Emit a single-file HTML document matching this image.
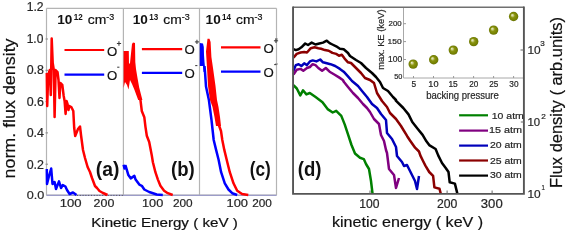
<!DOCTYPE html>
<html><head><meta charset="utf-8">
<style>
html,body{margin:0;padding:0;background:#fff;width:567px;height:234px;overflow:hidden}
svg{display:block;will-change:transform}
text{font-family:"Liberation Sans",sans-serif}
</style></head>
<body>
<svg width="567" height="234" viewBox="0 0 567 234">
<defs>
<radialGradient id="ball" cx="0.5" cy="0.5" r="0.5" fx="0.33" fy="0.33">
<stop offset="0" stop-color="#f0f0d8"/>
<stop offset="0.22" stop-color="#c8cc80"/>
<stop offset="0.45" stop-color="#8a9410"/>
<stop offset="0.85" stop-color="#748000"/>
<stop offset="1" stop-color="#66700a"/>
</radialGradient>
</defs>
<rect width="567" height="234" fill="#fff"/>
<!-- left frames -->
<g fill="none" stroke="#b4b4b4" stroke-width="1.2">
<line x1="46.5" y1="8.3" x2="276.5" y2="8.3"/>
<line x1="46.5" y1="8.3" x2="46.5" y2="195.2"/>
<line x1="123.4" y1="8.3" x2="123.4" y2="195.2"/>
<line x1="199.5" y1="8.3" x2="199.5" y2="195.2"/>
<line x1="276.5" y1="8.3" x2="276.5" y2="195.2"/>
<line x1="46.5" y1="195.2" x2="276.5" y2="195.2"/>
</g>
<line x1="46.5" y1="195.4" x2="276.5" y2="195.4" stroke="#9c9cc8" stroke-width="1.2"/>
<line x1="77" y1="195.4" x2="123" y2="195.4" stroke="#555" stroke-width="1" stroke-dasharray="1 1.8"/>
<g stroke="#888" stroke-width="1">
<line x1="45.5" y1="39" x2="48" y2="39"/>
<line x1="45.5" y1="70.3" x2="48" y2="70.3"/>
<line x1="45.5" y1="101.6" x2="48" y2="101.6"/>
<line x1="45.5" y1="132.9" x2="48" y2="132.9"/>
<line x1="45.5" y1="164.2" x2="48" y2="164.2"/>
<line x1="275" y1="39" x2="278" y2="39"/>
<line x1="275" y1="64" x2="278" y2="64"/>
</g>
<!-- legends a b c -->
<g stroke-width="2.2">
<line x1="64.5" y1="50" x2="104.2" y2="50" stroke="#ff0000"/>
<line x1="64.5" y1="74.6" x2="104.2" y2="74.6" stroke="#0000ff"/>
<line x1="141.9" y1="49.2" x2="182.2" y2="49.2" stroke="#ff0000"/>
<line x1="141.9" y1="72.9" x2="182.2" y2="72.9" stroke="#0000ff"/>
<line x1="221" y1="47.4" x2="260.5" y2="47.4" stroke="#ff0000"/>
<line x1="221" y1="71.7" x2="260.5" y2="71.7" stroke="#0000ff"/>
</g>
<!-- + and - superscripts -->
<g stroke="#3a3a3a" stroke-width="1.05">
<line x1="116.9" y1="43.5" x2="121.1" y2="43.5"/><line x1="118.95" y1="41.3" x2="118.95" y2="45.7"/>
<line x1="117.2" y1="67.2" x2="119.4" y2="67.2"/>
<line x1="194.9" y1="41.9" x2="199.1" y2="41.9"/><line x1="196.95" y1="39.7" x2="196.95" y2="44.1"/>
<line x1="195.2" y1="65.6" x2="197.4" y2="65.6"/>
<line x1="273.9" y1="40.8" x2="278.1" y2="40.8"/><line x1="275.95" y1="38.6" x2="275.95" y2="43"/>
<line x1="274.2" y1="64.6" x2="276.4" y2="64.6"/>
</g>
<!-- panel a curves -->
<g fill="none" stroke-width="2.5" stroke-linejoin="round">
<polyline stroke="#ff0000" points="46.8,73 47.2,106 48.2,75 49.8,70 50.8,95 51.7,38.5 52.7,63 53.8,70 54.6,117 55.6,70 57.5,72 58.5,80 59.5,98 60.3,83 62.3,85 63.7,96 64.6,101 65.6,114 66.5,101 67.5,104 68.5,110 69.4,106 71.3,107 73.3,111 74.2,128 75.2,136 78,129 80,126.5 81,135 83,150 85,158 87.6,167 90,172 92,178 95,186 97,188 99.5,191 103,193 107.5,195"/>
<polyline stroke="#0000ff" points="46.8,169 47,184 49,176 51.2,168.5 52.5,184 54.6,182 56,189 59,181.4 61,188 62.8,185 65.4,186.5 67,190 69.6,194 73,192.5 76.5,195"/>
</g>
<!-- panel b -->
<polygon fill="#ff0000" points="123.6,51 128.8,51 129,64 130,63 132,44 133,42.5 135,43 135.3,62 136,69 137.5,78 139.2,87.4 142.4,100 138.2,100 134.5,90 132,84 130,80 128.5,89.5 127,85 125,82 123.6,88"/>
<g fill="none" stroke-width="2.5" stroke-linejoin="round">
<polyline stroke="#ff0000" points="139.5,96 140.6,101.1 141.8,111 144.3,117.2 145.5,127.1 146.8,135.8 149.2,142 150.5,148.7 151.7,154.9 152.9,162.3 155.4,172.2 157.9,179.6 160.4,185.8 164.1,190.7 167.8,193.2 172.7,195"/>
<polyline stroke="#0000ff" points="123.6,164.8 124.5,168.5 125.7,166 128.2,174.7 130.7,178.4 134.4,175.9 135.6,179.6 139.3,184.6 141.8,185.8 144.3,189.5 149.2,192 156.7,194.5 162.8,195"/>
</g>
<!-- panel c -->
<polygon fill="#0000ff" points="199.8,43 203,43.5 203.8,47 204,55 204.5,62 205.5,72 203.5,72 203,66 199.8,66"/>
<g fill="none" stroke-width="2.5" stroke-linejoin="round">
<polyline stroke="#0000ff" points="204.5,66 205,72 206,86.5 208.9,100 211.5,120 213.7,140 216.1,149.9 218.6,159.8 221.1,172.2 224.8,183.3 228.5,189.5 232.2,193.2 237.2,195"/>
</g>
<polygon fill="#ff0000" points="207.5,38.8 209.5,38.8 210.6,42 211.4,57 213,68 215.5,86 217,100 218.5,107 220,117 221,126 216,126 214.5,117 212.5,107 210,100 208,86 207,68 206,51.4"/>
<g fill="none" stroke-width="2.5" stroke-linejoin="round">
<polyline stroke="#ff0000" points="218.5,124 221,131 222.3,140 224.3,149.9 227.3,162.3 229.8,172.2 233.5,183.3 237.2,190.7 242.1,194 248.3,195"/>
</g>
<!-- ===== panel d ===== -->
<g stroke="#a8a8a8" stroke-width="1" fill="none">
<line x1="403.5" y1="7" x2="403.5" y2="78"/>
<line x1="403.5" y1="78" x2="524" y2="78"/>
</g>
<g stroke="#999" stroke-width="1">
<line x1="403.5" y1="23.7" x2="406" y2="23.7"/>
<line x1="403.5" y1="41.6" x2="406" y2="41.6"/>
<line x1="403.5" y1="59.5" x2="406" y2="59.5"/>
<line x1="413.5" y1="76" x2="413.5" y2="78"/>
<line x1="433.5" y1="76" x2="433.5" y2="78"/>
<line x1="453.6" y1="76" x2="453.6" y2="78"/>
<line x1="473.6" y1="76" x2="473.6" y2="78"/>
<line x1="493.6" y1="76" x2="493.6" y2="78"/>
<line x1="513.6" y1="76" x2="513.6" y2="78"/>
</g>
<g>
<circle cx="413.2" cy="64.1" r="4.7" fill="url(#ball)"/>
<circle cx="433.7" cy="59.7" r="4.7" fill="url(#ball)"/>
<circle cx="453.3" cy="50.1" r="4.7" fill="url(#ball)"/>
<circle cx="473.7" cy="41.6" r="4.7" fill="url(#ball)"/>
<circle cx="493.6" cy="30.1" r="4.7" fill="url(#ball)"/>
<circle cx="513.6" cy="16.5" r="4.7" fill="url(#ball)"/>
</g>
<g fill="none" stroke-width="2.5" stroke-linejoin="round">
<polyline stroke="#000000" points="293.5,49.2 295.8,50.1 298.6,49.2 301.4,47.3 305.2,43.5 308,45 311.7,42.6 315.5,44.5 319.3,43.5 323,42.6 326.8,40.7 329.6,43.1 332.4,44.5 336.2,46.3 339.9,48.8 343.7,49.2 348,53 350,56 356,60 361,63 366,68 372,73 376,77 380,82 383,88 388,91 393,97 396,100 395.6,100.3 403.3,108 408.5,114.4 412.3,122 417.4,128.5 422.6,134.9 426.4,141.3 429.2,145.1 435.6,149 438.2,155.4 442,163 445.9,168.2 448.5,172 449.7,182.3 454.9,183.6 457.4,193.9"/>
<polyline stroke="#8b0000" points="293.5,57.6 296.7,53.9 300.5,52.5 304.2,52 307,52.5 310.8,48.2 314.6,47.3 318.3,48.2 321.1,48.8 324.9,50.1 328.7,50.7 332.4,52.9 336.2,53.9 339,55.7 341.8,54.8 344.6,58.6 348,62.3 351,63 356,68 361,73 365,78 370,80 374,83 377,93 382,101 387,107 390,113 396,119 401,126 407.2,136.2 410,140.5 415.1,147.7 419,151.5 420.3,155.4 422.8,160.5 425.4,165.6 429.2,172 433.1,175.9 434.4,187.4 439.5,188.7 440.8,193.9"/>
<polyline stroke="#0000bb" points="293.5,70.8 295.8,65.1 298.6,64.2 301.4,66 304.2,63.3 307,65.1 309.9,61.4 312.7,60.4 316.4,61.4 320.2,59.5 323,62.3 326.8,63.3 330.5,64.2 335.2,66 339.9,68.9 343.7,71.7 348,76.4 352,81 358,86 362,91 367,97 372,104 377,108 381,114 386,120 387,133 392,139 396,147 397,156 402,162 404,166 407,165 411,173 415,181 417,189 419,176"/>
<polyline stroke="#800080" points="293.5,74.5 296.7,69.8 300.5,68.9 303.3,70.8 307,68 309.9,67 312.7,64.2 315.5,65.1 318.3,68 322.1,70.8 325.8,68 329.6,71.7 334.3,74.5 339,77.4 342.8,80 344,82 348,87 353,93 358,98 363,104 367,108 370,112 374,119 379,124 381,135 384,141 386,150 387,153 389,169 394,175 396,188 399,178"/>
<polyline stroke="#008000" points="293.4,85.1 296.8,88.5 300.3,95.4 303,90.3 306.4,94.4 309.8,93 315.6,97.1 322.5,102.2 327.6,109.1 332.7,112.5 336.2,110.8 341.3,115.9 344.7,124.4 348.1,134.7 351.5,145 355,153.5 360,157.8 363.8,159.1 366,164 369,169 371,181 372.5,193.5"/>
</g>
<line x1="293" y1="7.3" x2="523.9" y2="7.3" stroke="#707070" stroke-width="1.6"/>
<polyline points="293.05,6.5 293.05,193.9 523.9,193.9 523.9,6.5" fill="none" stroke="#555" stroke-width="1.9"/>
<g stroke="#666" stroke-width="1">
<line x1="370" y1="190.5" x2="370" y2="193.9"/>
<line x1="447.1" y1="190.5" x2="447.1" y2="193.9"/>
<line x1="492.1" y1="190.5" x2="492.1" y2="193.9"/>
<line x1="520.5" y1="50" x2="524.3" y2="50"/>
<line x1="520.8" y1="122" x2="524.3" y2="122"/>
</g>
<g stroke-width="2.2">
<line x1="459.1" y1="115.3" x2="488" y2="115.3" stroke="#008000"/>
<line x1="459.1" y1="130.6" x2="488" y2="130.6" stroke="#800080"/>
<line x1="459.1" y1="145.6" x2="488" y2="145.6" stroke="#0000bb"/>
<line x1="459.1" y1="160.5" x2="488" y2="160.5" stroke="#8b0000"/>
<line x1="459.1" y1="175.6" x2="488" y2="175.6" stroke="#000"/>
</g>

<text x="26.7" y="11.3" font-size="11.954" fill="#262626" stroke="#262626" stroke-width="0.2" textLength="16.895" lengthAdjust="spacingAndGlyphs">1.2</text>
<text x="26.7" y="43.2" font-size="12.587" fill="#262626" stroke="#262626" stroke-width="0.2" textLength="16.681" lengthAdjust="spacingAndGlyphs">1.0</text>
<text x="26.7" y="74.4" font-size="12.279" fill="#262626" stroke="#262626" stroke-width="0.2" textLength="17.264" lengthAdjust="spacingAndGlyphs">0.8</text>
<text x="26.7" y="105.7" font-size="12.279" fill="#262626" stroke="#262626" stroke-width="0.2" textLength="17.264" lengthAdjust="spacingAndGlyphs">0.6</text>
<text x="26.7" y="137.0" font-size="12.279" fill="#262626" stroke="#262626" stroke-width="0.2" textLength="17.264" lengthAdjust="spacingAndGlyphs">0.4</text>
<text x="26.7" y="168.8" font-size="12.279" fill="#262626" stroke="#262626" stroke-width="0.2" textLength="17.264" lengthAdjust="spacingAndGlyphs">0.2</text>
<text x="26.7" y="198.6" font-size="11.724" fill="#262626" stroke="#262626" stroke-width="0.2" textLength="17.521" lengthAdjust="spacingAndGlyphs">0.0</text>
<text transform="translate(15.1,178.5) rotate(-90)" font-size="17.427" fill="#111" stroke="#111" stroke-width="0.2" textLength="140.047" lengthAdjust="spacingAndGlyphs">norm. flux density</text>
<text x="57.3" y="24.4" font-size="13.649" fill="#111" font-weight="bold" textLength="15.115" lengthAdjust="spacingAndGlyphs">10</text>
<text x="73.7" y="19.8" font-size="9.151" fill="#111" font-weight="bold" textLength="8.958" lengthAdjust="spacingAndGlyphs">12</text>
<text x="87.8" y="24.3" font-size="13.416" fill="#111" stroke="#111" stroke-width="0.2" textLength="18.496" lengthAdjust="spacingAndGlyphs">cm</text>
<text x="106.3" y="19.8" font-size="9.151" fill="#111" stroke="#111" stroke-width="0.2" textLength="7.935" lengthAdjust="spacingAndGlyphs">-3</text>
<text x="132.8" y="24.4" font-size="13.649" fill="#111" font-weight="bold" textLength="15.115" lengthAdjust="spacingAndGlyphs">10</text>
<text x="149.2" y="19.8" font-size="9.151" fill="#111" font-weight="bold" textLength="8.958" lengthAdjust="spacingAndGlyphs">13</text>
<text x="163.3" y="24.3" font-size="13.416" fill="#111" stroke="#111" stroke-width="0.2" textLength="18.496" lengthAdjust="spacingAndGlyphs">cm</text>
<text x="181.8" y="19.8" font-size="9.151" fill="#111" stroke="#111" stroke-width="0.2" textLength="7.935" lengthAdjust="spacingAndGlyphs">-3</text>
<text x="205.6" y="24.4" font-size="13.649" fill="#111" font-weight="bold" textLength="15.115" lengthAdjust="spacingAndGlyphs">10</text>
<text x="222.0" y="19.8" font-size="9.151" fill="#111" font-weight="bold" textLength="8.958" lengthAdjust="spacingAndGlyphs">14</text>
<text x="236.1" y="24.3" font-size="13.416" fill="#111" stroke="#111" stroke-width="0.2" textLength="18.496" lengthAdjust="spacingAndGlyphs">cm</text>
<text x="254.6" y="19.8" font-size="9.151" fill="#111" stroke="#111" stroke-width="0.2" textLength="7.935" lengthAdjust="spacingAndGlyphs">-3</text>
<text x="107.1" y="55.5" font-size="13.2" fill="#111" stroke="#111" stroke-width="0.2">O</text>
<text x="107.1" y="79.9" font-size="13.2" fill="#111" stroke="#111" stroke-width="0.2">O</text>
<text x="184.6" y="53.8" font-size="13.2" fill="#111" stroke="#111" stroke-width="0.2">O</text>
<text x="184.6" y="78.2" font-size="13.2" fill="#111" stroke="#111" stroke-width="0.2">O</text>
<text x="263.6" y="52.9" font-size="13.2" fill="#111" stroke="#111" stroke-width="0.2">O</text>
<text x="263.6" y="77.3" font-size="13.2" fill="#111" stroke="#111" stroke-width="0.2">O</text>
<text x="95.8" y="176.2" font-size="20.577" fill="#111" font-weight="bold" textLength="23.638" lengthAdjust="spacingAndGlyphs">(a)</text>
<text x="171.1" y="176.2" font-size="20.577" fill="#111" font-weight="bold" textLength="23.709" lengthAdjust="spacingAndGlyphs">(b)</text>
<text x="249.8" y="176.2" font-size="20.577" fill="#111" font-weight="bold" textLength="21.043" lengthAdjust="spacingAndGlyphs">(c)</text>
<text x="297.8" y="176.2" font-size="20.577" fill="#111" font-weight="bold" textLength="23.709" lengthAdjust="spacingAndGlyphs">(d)</text>
<text x="59.8" y="207.2" font-size="11.443" fill="#262626" stroke="#262626" stroke-width="0.2" textLength="21.84" lengthAdjust="spacingAndGlyphs">100</text>
<text x="93.6" y="207.2" font-size="11.443" fill="#262626" stroke="#262626" stroke-width="0.2" textLength="20.701" lengthAdjust="spacingAndGlyphs">200</text>
<text x="142.0" y="207.2" font-size="11.443" fill="#262626" stroke="#262626" stroke-width="0.2" textLength="21.215" lengthAdjust="spacingAndGlyphs">100</text>
<text x="172.9" y="207.2" font-size="11.443" fill="#262626" stroke="#262626" stroke-width="0.2" textLength="19.698" lengthAdjust="spacingAndGlyphs">200</text>
<text x="226.5" y="207.2" font-size="11.443" fill="#262626" stroke="#262626" stroke-width="0.2" textLength="21.434" lengthAdjust="spacingAndGlyphs">100</text>
<text x="252.2" y="207.2" font-size="11.443" fill="#262626" stroke="#262626" stroke-width="0.2" textLength="19.698" lengthAdjust="spacingAndGlyphs">200</text>
<text x="359.3" y="208.2" font-size="12.005" fill="#262626" stroke="#262626" stroke-width="0.2" textLength="20.248" lengthAdjust="spacingAndGlyphs">100</text>
<text x="437.0" y="208.2" font-size="12.005" fill="#262626" stroke="#262626" stroke-width="0.2" textLength="20.431" lengthAdjust="spacingAndGlyphs">200</text>
<text x="480.8" y="208.2" font-size="12.005" fill="#262626" stroke="#262626" stroke-width="0.2" textLength="21.896" lengthAdjust="spacingAndGlyphs">300</text>
<text x="91.2" y="226.8" font-size="13.439" fill="#111" stroke="#111" stroke-width="0.2" textLength="146.634" lengthAdjust="spacingAndGlyphs">Kinetic Energy ( keV )</text>
<text x="331.9" y="227.3" font-size="15.387" fill="#111" stroke="#111" stroke-width="0.2" textLength="151.284" lengthAdjust="spacingAndGlyphs">kinetic energy ( keV )</text>
<text x="527.5" y="54.1" font-size="11.724" fill="#262626" stroke="#262626" stroke-width="0.2" textLength="13.229" lengthAdjust="spacingAndGlyphs">10</text>
<text x="540.3" y="46.3" font-size="7.873" fill="#262626" stroke="#262626" stroke-width="0.2" textLength="4.496" lengthAdjust="spacingAndGlyphs">3</text>
<text x="527.5" y="126.3" font-size="11.111" fill="#262626" stroke="#262626" stroke-width="0.2" textLength="12.658" lengthAdjust="spacingAndGlyphs">10</text>
<text x="541.3" y="118.5" font-size="7.873" fill="#262626" stroke="#262626" stroke-width="0.2" textLength="4.556" lengthAdjust="spacingAndGlyphs">2</text>
<text x="527.5" y="198.1" font-size="11.724" fill="#262626" stroke="#262626" stroke-width="0.2" textLength="13.229" lengthAdjust="spacingAndGlyphs">10</text>
<text x="541.4" y="190.3" font-size="7.873" fill="#262626" stroke="#262626" stroke-width="0.2" textLength="3.363" lengthAdjust="spacingAndGlyphs">1</text>
<text transform="translate(562.0,188.0) rotate(-90)" font-size="16.447" fill="#111" stroke="#111" stroke-width="0.2" textLength="171.026" lengthAdjust="spacingAndGlyphs">Flux density ( arb.units)</text>
<text x="491.8" y="118.5" font-size="9.718" fill="#262626" stroke="#262626" stroke-width="0.2" textLength="32.039" lengthAdjust="spacingAndGlyphs">10 atm</text>
<text x="488.9" y="133.4" font-size="9.718" fill="#262626" stroke="#262626" stroke-width="0.2" textLength="33.069" lengthAdjust="spacingAndGlyphs">15 atm</text>
<text x="489.9" y="148.4" font-size="9.718" fill="#262626" stroke="#262626" stroke-width="0.2" textLength="31.925" lengthAdjust="spacingAndGlyphs">20 atm</text>
<text x="489.9" y="163.6" font-size="9.718" fill="#262626" stroke="#262626" stroke-width="0.2" textLength="31.925" lengthAdjust="spacingAndGlyphs">25 atm</text>
<text x="489.9" y="178.4" font-size="9.718" fill="#262626" stroke="#262626" stroke-width="0.2" textLength="31.925" lengthAdjust="spacingAndGlyphs">30 atm</text>
<text x="388.6" y="25.8" font-size="7.588" fill="#262626" stroke="#262626" stroke-width="0.2" textLength="13.054" lengthAdjust="spacingAndGlyphs">200</text>
<text x="387.6" y="43.8" font-size="7.588" fill="#262626" stroke="#262626" stroke-width="0.2" textLength="14.116" lengthAdjust="spacingAndGlyphs">150</text>
<text x="388.1" y="62.2" font-size="8.333" fill="#262626" stroke="#262626" stroke-width="0.2" textLength="14.092" lengthAdjust="spacingAndGlyphs">100</text>
<text x="394.2" y="79.0" font-size="7.588" fill="#262626" stroke="#262626" stroke-width="0.2" textLength="8.221" lengthAdjust="spacingAndGlyphs">50</text>
<text x="411.6" y="86.6" font-size="8.333" fill="#262626" stroke="#262626" stroke-width="0.2" textLength="4.641" lengthAdjust="spacingAndGlyphs">5</text>
<text x="428.3" y="86.6" font-size="8.333" fill="#262626" stroke="#262626" stroke-width="0.2" textLength="10.176" lengthAdjust="spacingAndGlyphs">10</text>
<text x="448.4" y="86.6" font-size="8.333" fill="#262626" stroke="#262626" stroke-width="0.2" textLength="9.345" lengthAdjust="spacingAndGlyphs">15</text>
<text x="469.2" y="86.6" font-size="8.333" fill="#262626" stroke="#262626" stroke-width="0.2" textLength="9.057" lengthAdjust="spacingAndGlyphs">20</text>
<text x="489.3" y="86.6" font-size="8.333" fill="#262626" stroke="#262626" stroke-width="0.2" textLength="9.057" lengthAdjust="spacingAndGlyphs">25</text>
<text x="509.3" y="86.6" font-size="8.333" fill="#262626" stroke="#262626" stroke-width="0.2" textLength="9.176" lengthAdjust="spacingAndGlyphs">30</text>
<text x="426.2" y="98.9" font-size="10.589" fill="#262626" stroke="#262626" stroke-width="0.2" textLength="72.63" lengthAdjust="spacingAndGlyphs">backing pressure</text>
<text transform="translate(383.5,69.7) rotate(-90)" font-size="9.5" fill="#262626" stroke="#262626" stroke-width="0.2" textLength="60.219" lengthAdjust="spacingAndGlyphs">max. KE (keV)</text>
</svg>
</body></html>
